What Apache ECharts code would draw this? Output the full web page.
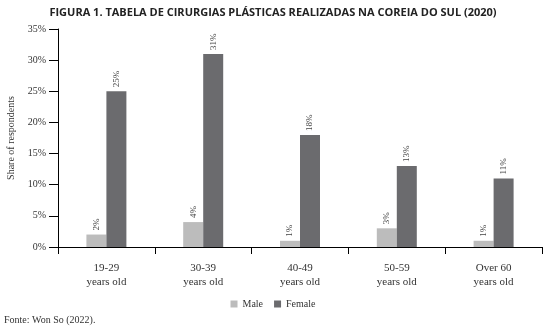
<!DOCTYPE html>
<html>
<head>
<meta charset="utf-8">
<script src="https://cdn.jsdelivr.net/npm/echarts@6/dist/echarts.min.js"></script>
<style>
  html, body { margin: 0; padding: 0; background: #fff; }
  #chart { width: 546px; height: 333px; }
</style>
</head>
<body>
<div id="chart"></div>
<script>
// Age groups and shares of respondents (%) by sex
var categories = ['19-29\nyears old', '30-39\nyears old', '40-49\nyears old', '50-59\nyears old', 'Over 60\nyears old'];
var maleValues = [2, 4, 1, 3, 1];
var femaleValues = [25, 31, 18, 13, 11];
var yTicks = { min: 0, max: 35, interval: 5 };

var serif = '"Liberation Serif", "DejaVu Serif", serif';
var txt = '#333333';

var barLabel = {
  show: true,
  position: 'top',
  rotate: 90,
  align: 'left',
  verticalAlign: 'middle',
  distance: 4,
  formatter: '{c}%',
  fontFamily: serif,
  fontSize: 9,
  color: '#444'
};

var chart = echarts.init(document.getElementById('chart'), null, { renderer: 'canvas' });
chart.setOption({
  animation: false,
  backgroundColor: '#ffffff',
  title: {
    text: 'FIGURA 1. TABELA DE CIRURGIAS PLÁSTICAS REALIZADAS NA COREIA DO SUL (2020)',
    left: 'center',
    top: 2,
    textStyle: { fontFamily: '"Open Sans", sans-serif', fontWeight: 'bold', fontSize: 11, color: '#222' }
  },
  graphic: [{
    type: 'text',
    left: 4,
    top: 315,
    style: { text: 'Fonte: Won So (2022).', font: '10px ' + serif, fill: txt }
  }],
  legend: {
    data: ['Male', 'Female'],
    left: 'center',
    top: 294,
    icon: 'rect',
    itemWidth: 7,
    itemHeight: 7,
    itemGap: 11,
    textStyle: { fontFamily: serif, fontSize: 10, color: txt }
  },
  grid: { left: 58, right: 4, top: 29, bottom: 86, containLabel: false, outerBoundsMode: 'none' },
  xAxis: {
    type: 'category',
    data: categories,
    axisLine: { lineStyle: { color: '#000', width: 1 } },
    axisTick: { show: true, length: 7, lineStyle: { color: '#000' } },
    axisLabel: { fontFamily: serif, fontSize: 11, color: txt, lineHeight: 14, margin: 14 }
  },
  yAxis: {
    type: 'value',
    min: yTicks.min,
    max: yTicks.max,
    interval: yTicks.interval,
    name: 'Share of respondents',
    nameLocation: 'middle',
    nameRotate: 90,
    nameGap: 41,
    nameTextStyle: { fontFamily: serif, fontSize: 10, color: txt },
    axisLine: { show: true, lineStyle: { color: '#000', width: 1 } },
    axisTick: { show: true, length: 9, lineStyle: { color: '#000' } },
    axisLabel: { formatter: '{value}%', fontFamily: serif, fontSize: 10, color: txt, margin: 12 },
    splitLine: { show: false }
  },
  series: [
    {
      name: 'Male',
      type: 'bar',
      data: maleValues,
      barWidth: 20,
      barGap: '0%',
      itemStyle: { color: '#bcbcbc' },
      label: barLabel
    },
    {
      name: 'Female',
      type: 'bar',
      data: femaleValues,
      barWidth: 20,
      barGap: '0%',
      itemStyle: { color: '#6b6b6e' },
      label: barLabel
    }
  ]
});
</script>
</body>
</html>
